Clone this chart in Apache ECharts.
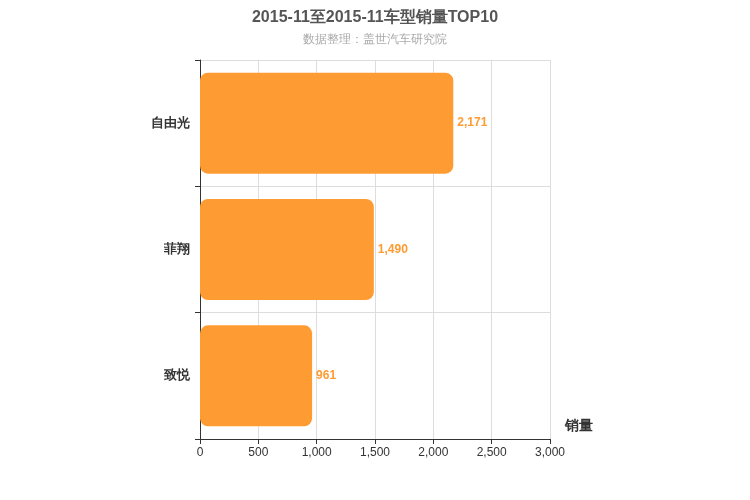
<!DOCTYPE html>
<html><head><meta charset="utf-8">
<script src="https://cdn.jsdelivr.net/npm/echarts@6/dist/echarts.min.js"></script>
</head><body style="margin:0">
<div id="c" style="width:750px;height:500px"></div>
<script>
const categories = ['自由光', '菲翔', '致悦'];
const values = [2171, 1490, 961];
const xTicks = [0, 500, 1000, 1500, 2000, 2500, 3000];
const chart = echarts.init(document.getElementById('c'));
chart.setOption({
  title: {text: '2015-11至2015-11车型销量TOP10', subtext: '数据整理：盖世汽车研究院', left: 'center', top: 5,
    textStyle: {fontSize: 16, fontWeight: 'bold', color: '#555'}, subtextStyle: {fontSize: 12, color: '#aaa'}, itemGap: 8},
  grid: {left: 200, right: 200, top: 60, bottom: 61, containLabel: false},
  xAxis: {type: 'value', min: xTicks[0], max: xTicks[xTicks.length-1], interval: 500,
    name: '销量', nameLocation: 'end', nameGap: 15, nameTextStyle: {fontSize: 14, fontWeight: 'bold', color: '#333', verticalAlign: 'top', padding: [-20,0,0,0]},
    axisLine: {show: true, lineStyle: {color: '#333'}}, axisTick: {show: true, lineStyle: {color: '#333'}},
    axisLabel: {color: '#333', fontSize: 12}, splitLine: {lineStyle: {color: '#ddd'}}},
  yAxis: {type: 'category', data: categories, inverse: true,
    axisLine: {show: true, lineStyle: {color: '#333'}}, axisTick: {show: true, lineStyle: {color: '#333'}},
    axisLabel: {color: '#333', fontSize: 13, fontWeight: 'bold', margin: 10},
    splitLine: {show: true, lineStyle: {color: '#ddd'}}},
  series: [{type: 'bar', data: values, barWidth: '80%',
    itemStyle: {color: '#ff9b33', borderRadius: 8},
    label: {show: true, position: 'right', color: '#ff9b33', fontWeight: 'bold', fontSize: 12, distance: 4,
      formatter: p => p.value.toLocaleString('en-US')}}]
});
</script></body></html>
